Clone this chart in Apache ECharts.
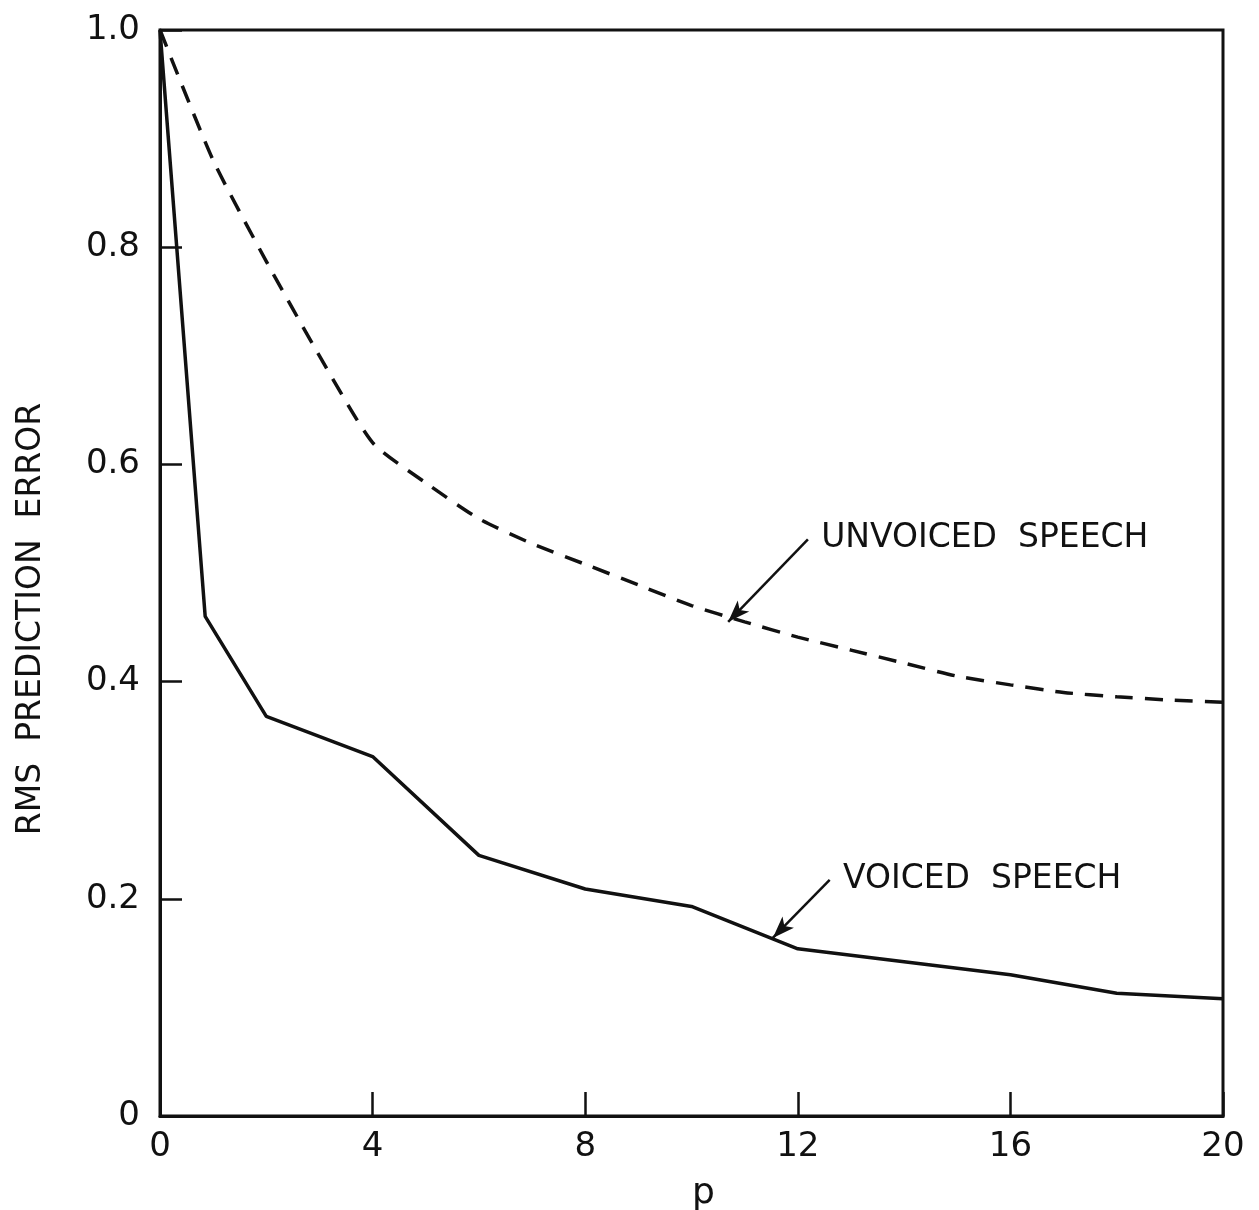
<!DOCTYPE html>
<html>
<head>
<meta charset="utf-8">
<script src="https://cdn.jsdelivr.net/npm/echarts@6/dist/echarts.min.js"></script>
<style>html,body{margin:0;padding:0;background:#fff;}#c{width:1259px;height:1210px;}</style>
</head>
<body>
<div id="c"></div>
<script>
// ---- data ----
var voicedX = [0, 0.85, 2, 4, 6, 8, 10, 12, 14, 16, 18, 20];
var voicedY = [1.0, 0.46, 0.368, 0.331, 0.24, 0.209, 0.193, 0.154, 0.142, 0.13, 0.113, 0.108];
var unvoicedX = [0, 1, 2, 3, 4, 5, 6, 7, 8, 9, 10, 11, 12, 13, 14, 15, 16, 17, 18, 19, 20];
var unvoicedY = [1.0, 0.88, 0.787, 0.70, 0.62, 0.583, 0.55, 0.527, 0.508, 0.489, 0.47, 0.455, 0.441, 0.429, 0.417, 0.405, 0.397, 0.39, 0.386, 0.383, 0.381];
var xTicks = [0, 4, 8, 12, 16, 20];
var yTicks = [0, 0.2, 0.4, 0.6, 0.8, 1.0];
var xLabel = 'p';
var yLabel = 'RMS  PREDICTION  ERROR';
var unvoicedName = 'UNVOICED  SPEECH';
var voicedName = 'VOICED  SPEECH';
// annotation anchors (data space)
var unvoicedArrow = [[12.19, 0.531], [10.69, 0.455]];
var voicedArrow = [[12.6, 0.2175], [11.53, 0.164]];
var unvoicedText = [12.44, 0.532];
var voicedText = [12.85, 0.218];

function pairs(xs, ys) { return xs.map(function (x, i) { return [x, ys[i]]; }); }

var FONT = 'DejaVu Sans';
var chart = echarts.init(document.getElementById('c'), null, { renderer: 'canvas' });

function arrowLine(a) {
  return {
    silent: true,
    symbol: ['none', 'arrow'],
    symbolSize: [12, 22],
    lineStyle: { color: '#111', width: 2.5, type: 'solid' },
    label: { show: false },
    data: [[{ coord: a[0] }, { coord: a[1] }]]
  };
}

var option = {
  backgroundColor: '#fff',
  animation: false,
  grid: {
    left: 160, right: 36, top: 30, bottom: 94,
    containLabel: false, outerBoundsMode: 'none',
    show: true, borderColor: '#111', borderWidth: 3
  },
  xAxis: {
    type: 'value', min: xTicks[0], max: xTicks[xTicks.length - 1], interval: 4,
    name: xLabel, nameLocation: 'middle', nameGap: 60,
    nameTextStyle: { fontFamily: FONT, fontSize: 36, color: '#111', padding: [0, 0, 0, 24] },
    axisLine: { show: true, lineStyle: { color: '#111', width: 3 } },
    axisTick: { show: true, inside: true, length: 24, lineStyle: { color: '#111', width: 2.5 } },
    axisLabel: { fontFamily: FONT, fontSize: 34, color: '#111', margin: 14 },
    splitLine: { show: false }
  },
  yAxis: {
    type: 'value', min: yTicks[0], max: yTicks[yTicks.length - 1], interval: 0.2,
    name: yLabel, nameLocation: 'middle', nameGap: 112, nameRotate: 90,
    nameTextStyle: { fontFamily: FONT, fontSize: 33, color: '#111', padding: [0, 92, 0, 0] },
    axisLine: { show: true, lineStyle: { color: '#111', width: 3 } },
    axisTick: { show: true, inside: true, length: 22, lineStyle: { color: '#111', width: 2.5 } },
    axisLabel: {
      fontFamily: FONT, fontSize: 34, color: '#111', margin: 20,
      formatter: function (v) { return v === 0 ? '0' : v.toFixed(1); }
    },
    splitLine: { show: false }
  },
  series: [
    {
      name: unvoicedName, type: 'line', data: pairs(unvoicedX, unvoicedY),
      smooth: 0.2, showSymbol: false, symbol: 'none',
      lineStyle: { color: '#111', width: 3.5, type: [18, 12] },
      markLine: arrowLine(unvoicedArrow)
    },
    {
      name: voicedName, type: 'line', data: pairs(voicedX, voicedY),
      smooth: false, showSymbol: false, symbol: 'none',
      lineStyle: { color: '#111', width: 3.5, type: 'solid' },
      markLine: arrowLine(voicedArrow)
    }
  ]
};
chart.setOption(option);

var p1 = chart.convertToPixel({ gridIndex: 0 }, unvoicedText);
var p2 = chart.convertToPixel({ gridIndex: 0 }, voicedText);
chart.setOption({
  graphic: [
    { type: 'text', x: p1[0], y: p1[1], style: { text: unvoicedName, fontFamily: FONT, fontSize: 33, fill: '#111', textVerticalAlign: 'middle', textAlign: 'left' } },
    { type: 'text', x: p2[0], y: p2[1], style: { text: voicedName, fontFamily: FONT, fontSize: 33, fill: '#111', textVerticalAlign: 'middle', textAlign: 'left' } }
  ]
});
</script>
</body>
</html>
